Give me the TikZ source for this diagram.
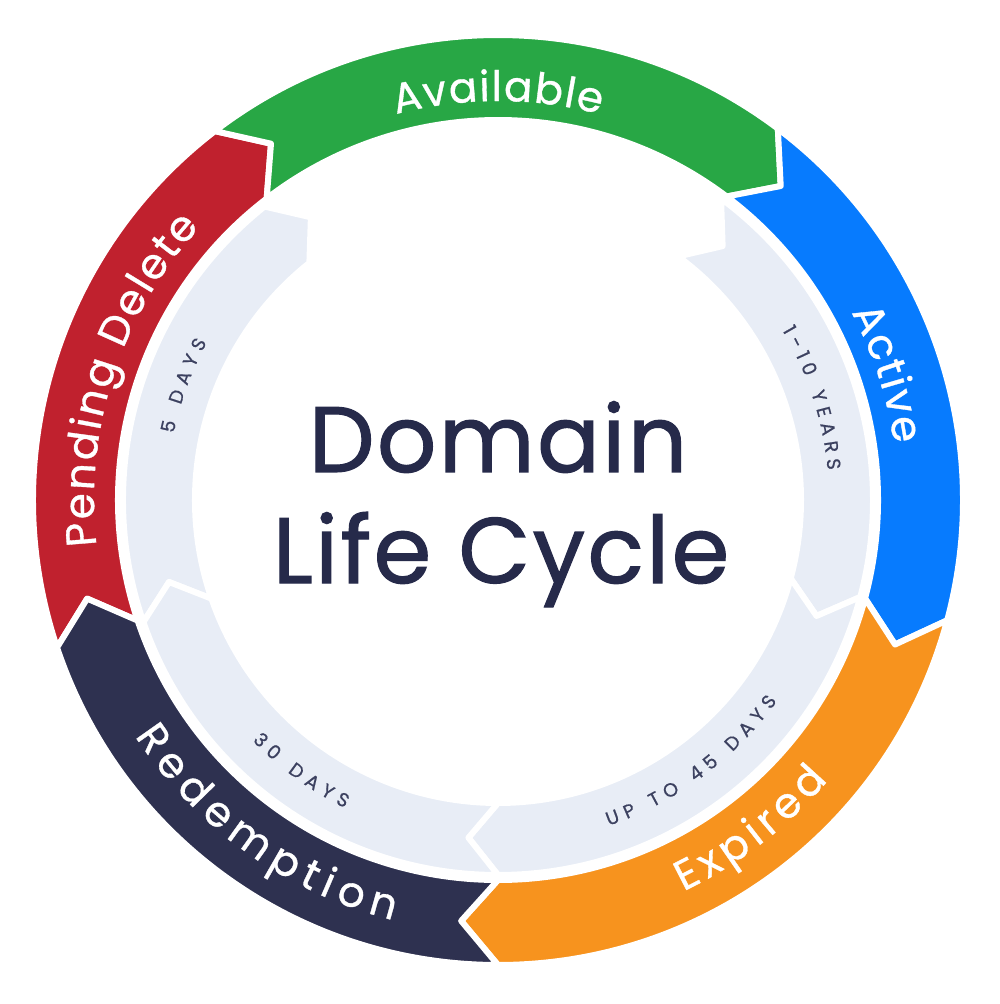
\documentclass[tikz,border=0pt]{standalone}
\usepackage{fontspec}
\setmainfont{Poppins}
\newfontfamily\titlefont[FakeBold=1.2, LetterSpace=2.6]{Poppins}
\newfontfamily\labfont[FakeBold=0.8]{Poppins}
\newfontfamily\smallfont[FakeBold=0.7]{Poppins}
\usetikzlibrary{decorations.text}
\definecolor{cgreen}{HTML}{28A745}
\definecolor{cblue}{HTML}{077BFE}
\definecolor{corange}{HTML}{F7931E}
\definecolor{cnavy}{HTML}{2E3150}
\definecolor{cred}{HTML}{C0212E}
\definecolor{clight}{HTML}{E8EDF6}
\definecolor{ctitle}{HTML}{262A4A}
\definecolor{csmall}{HTML}{3C4160}
\newlength\lsp
\newcommand\bigfmt{\fontsize{42}{42}\selectfont\labfont\color{white}}
\newcommand\smallfmt{\fontsize{19}{19}\selectfont\smallfont\color{csmall}}
\newcommand\chev[5]{%
  \pgfmathsetmacro\chevRm{(#4+#5)/2}%
  \filldraw[fill=#1, draw=white, line width=6, line join=round]
    (#2:#4) arc[start angle=#2, end angle=#3, radius=#4]
    -- ({#3-5}:\chevRm) -- (#3:#5)
    arc[start angle=#3, end angle=#2, radius=#5]
    -- ({#2-5}:\chevRm) -- cycle;
}
\tikzset{
  biglab/.style={decorate, decoration={text along path, text align=center,
     text={|\bigfmt|#1}}},
  smalllab/.style={decorate, decoration={text along path, text align=center,
     text={|\smallfmt|#1}}},
  titletext/.style={font=\fontsize{93}{100}\selectfont\titlefont, text=ctitle, inner sep=0, anchor=base}
}
\begin{document}
\begin{tikzpicture}[x=1pt,y=1pt]
\useasboundingbox (-498,-504) rectangle (502,500);
\fill[white] (-498,-504) rectangle (502,500);
% outer ring
\chev{cred}{198.5}{127.5}{465}{380}
\chev{cgreen}{127.5}{53}{465}{380}
\chev{cblue}{53}{-15}{465}{380}
\chev{corange}{-15}{-90}{465}{380}
\chev{cnavy}{270}{198.5}{465}{380}
% inner ring
\chev{clight}{199}{128.5}{375}{303}
\chev{clight}{53.5}{-15}{375}{303}
\chev{clight}{-15}{-90}{375}{303}
\chev{clight}{270}{199}{375}{303}
% outer labels
\setlength\lsp{1.5pt}
\path[biglab={{A\kern\lsp}{v\kern\lsp}{a\kern\lsp}{i\kern\lsp}{l\kern\lsp}{a\kern\lsp}{b\kern\lsp}{l\kern\lsp}{e}}]
  (130:399) arc[start angle=130, end angle=50, radius=399];
\setlength\lsp{2pt}
\path[biglab={{A\kern\lsp}{c\kern\lsp}{t\kern\lsp}{i\kern\lsp}{v\kern\lsp}{e}}]
  (58:400) arc[start angle=58, end angle=-22, radius=400];
\setlength\lsp{5.5pt}
\path[biglab={{E\kern\lsp}{x\kern\lsp}{p\kern\lsp}{i\kern\lsp}{r\kern\lsp}{e\kern\lsp}{d}}]
  (-97.5:433) arc[start angle=-97.5, end angle=-7.5, radius=433];
\setlength\lsp{7.5pt}
\path[biglab={{R\kern\lsp}{e\kern\lsp}{d\kern\lsp}{e\kern\lsp}{m\kern\lsp}{p\kern\lsp}{t\kern\lsp}{i\kern\lsp}{o\kern\lsp}{n}}]
  (184.5:433) arc[start angle=184.5, end angle=284.5, radius=433];
\setlength\lsp{2.3pt}
\path[biglab={{P\kern\lsp}{e\kern\lsp}{n\kern\lsp}{d\kern\lsp}{i\kern\lsp}{n\kern\lsp}{g\kern\lsp}{\kern13pt}{D\kern\lsp}{e\kern\lsp}{l\kern\lsp}{e\kern\lsp}{t\kern\lsp}{e}}]
  (212:404) arc[start angle=212, end angle=112, radius=404];
% inner labels
\setlength\lsp{6.5pt}
\path[smalllab={{5\kern\lsp}{\kern11pt}{D\kern\lsp}{A\kern\lsp}{Y\kern\lsp}{S}}]
  (200:331) arc[start angle=200, end angle=120, radius=331];
\setlength\lsp{5.8pt}
\path[smalllab={{1\kern\lsp}{-\kern\lsp}{1\kern\lsp}{0\kern\lsp}{\kern11pt}{Y\kern\lsp}{E\kern\lsp}{A\kern\lsp}{R\kern\lsp}{S}}]
  (60:331) arc[start angle=60, end angle=-24, radius=331];
\setlength\lsp{6.5pt}
\path[smalllab={{U\kern\lsp}{P\kern\lsp}{\kern11pt}{T\kern\lsp}{O\kern\lsp}{\kern11pt}{4\kern\lsp}{5\kern\lsp}{\kern11pt}{D\kern\lsp}{A\kern\lsp}{Y\kern\lsp}{S}}]
  (-100:344) arc[start angle=-100, end angle=-7, radius=344];
\path[smalllab={{3\kern\lsp}{0\kern\lsp}{\kern11pt}{D\kern\lsp}{A\kern\lsp}{Y\kern\lsp}{S}}]
  (194:344) arc[start angle=194, end angle=274, radius=344];
% title
\node[titletext] (title1) at (0,28) {Domain};
\node[titletext] (title2) at (3,-83) {Life Cycle};
\end{tikzpicture}
\end{document}
